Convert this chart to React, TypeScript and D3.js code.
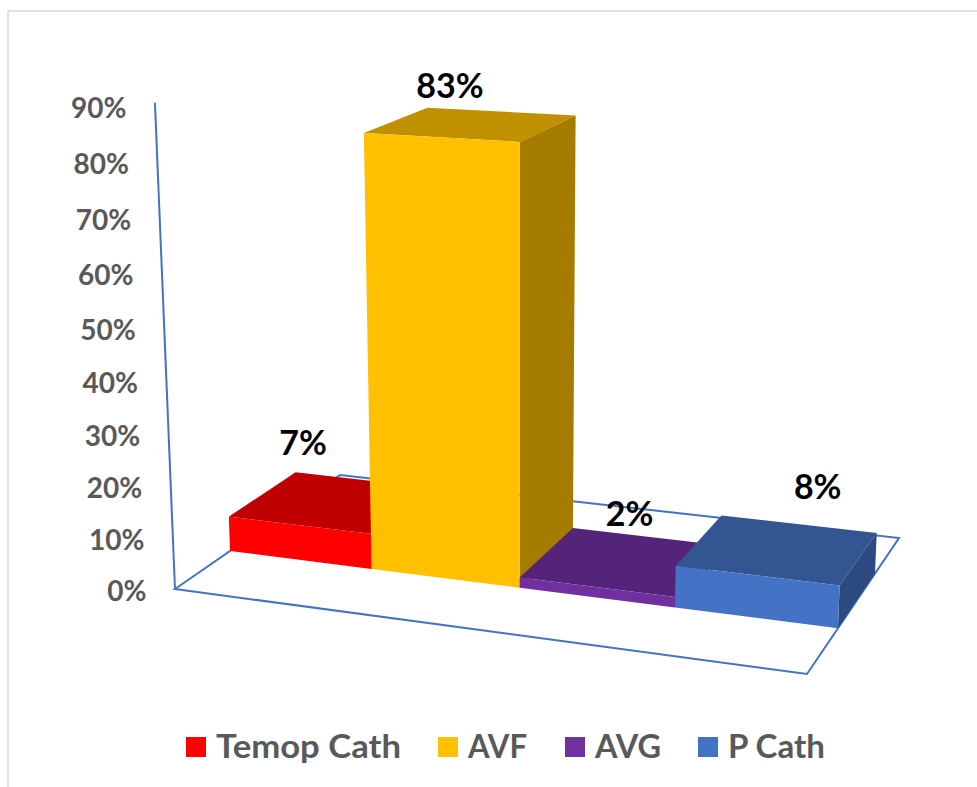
import React from "react";
import * as d3 from "d3";

const categories = ["Temop Cath", "AVF", "AVG", "P Cath"];
const percentValues = [7, 83, 2, 8];
const tickValues = [0, 10, 20, 30, 40, 50, 60, 70, 80, 90];
const frontColors = ["#FF0000", "#FFC000", "#7030A0", "#4472C4"];
const topColors = ["#C00000", "#C09000", "#54247A", "#335693"];
const sideColors = ["#900000", "#A67C00", "#43205F", "#2C4A80"];

// Camera: a 3D perspective projection of (u across, w into depth, v up), all in 0..1
const CAM = {
  xu: 556.07, xw: 214.67, xv: -28.5, x0: 175,
  yu: 21.58, yw: -44.61, yv: -490, y0: 589,
  hu: -0.0941, hw: 0.14608, hv: -0.055,
};
const project = (u: number, w: number, v: number): [number, number] => {
  const h = 1 + CAM.hu * u + CAM.hw * w + CAM.hv * v;
  return [
    (CAM.x0 + CAM.xu * u + CAM.xw * w + CAM.xv * v) / h,
    (CAM.y0 + CAM.yu * u + CAM.yw * w + CAM.yv * v) / h,
  ];
};

const uScale = d3.scaleBand<string>().domain(categories).range([0, 1]).padding(0);
const vScale = d3.scaleLinear().domain([0, 90]).range([0, 1]);
const DEPTH_FRONT = 0.304;
const DEPTH_BACK = 0.709;
const AXIS_BLUE = "#4472C4";
const FONT = "Lato, Carlito, Calibri, sans-serif";

const LABEL_SHIFT: [number, number][] = [
  [4, -70],
  [9, -39],
  [33, -61],
  [61, -76],
];
const LEGEND_X = [186, 438, 565, 698];
const LEGEND_TEXT_WIDTH = [185, 59, 66, 97];

const path = d3.line<[number, number]>().x((d) => d[0]).y((d) => d[1]);
const poly = (pts: [number, number][]) => path(pts) + "Z";

function Bar({ index }: { index: number }) {
  const name = categories[index];
  const u0 = uScale(name)!;
  const u1 = u0 + uScale.bandwidth();
  const v = vScale(percentValues[index]);
  const [f, b] = [DEPTH_FRONT, DEPTH_BACK];
  return (
    <g>
      <path d={poly([project(u0, f, v), project(u1, f, v), project(u1, b, v), project(u0, b, v)])} fill={topColors[index]} />
      <path d={poly([project(u1, f, 0), project(u1, b, 0), project(u1, b, v), project(u1, f, v)])} fill={sideColors[index]} />
      <path d={poly([project(u0, f, 0), project(u1, f, 0), project(u1, f, v), project(u0, f, v)])} fill={frontColors[index]} />
    </g>
  );
}

export default function App() {
  const floor = [project(0, 0, 0), project(1, 0, 0), project(1, 1, 0), project(0, 1, 0)];
  const axisTop = project(0, 0, 1.004);
  return (
    <svg
      width={977}
      height={787}
      style={{ position: "absolute", left: 0, top: 0, background: "#fff" }}
      fontFamily={FONT}
    >
      <path d="M8,787V11H977" fill="none" stroke="#D9D9D9" strokeWidth={1.5} />
      <path d={poly(floor)} fill="none" stroke={AXIS_BLUE} strokeWidth={2} />
      <line x1={floor[0][0]} y1={floor[0][1]} x2={axisTop[0]} y2={axisTop[1]} stroke={AXIS_BLUE} strokeWidth={2} />
      {tickValues.map((t) => {
        const [x, y] = project(0, 0, vScale(t));
        return (
          <text key={t} x={x - 28.5} y={y + 12 + (t >= 50 ? 1 : 0)} textAnchor="end" fontSize={28} fontWeight={700} fill="#595959">
            {t}%
          </text>
        );
      })}
      {categories.map((_, i) => (
        <Bar key={i} index={i} />
      ))}
      {categories.map((name, i) => {
        const uMid = uScale(name)! + uScale.bandwidth() / 2;
        const [x, y] = project(uMid, DEPTH_FRONT, vScale(percentValues[i]));
        return (
          <text key={name} x={x + LABEL_SHIFT[i][0]} y={y + LABEL_SHIFT[i][1]} textAnchor="middle" fontSize={34} fontWeight={700} fill="#000">
            {percentValues[i]}%
          </text>
        );
      })}
      {categories.map((name, i) => (
        <g key={name}>
          <rect x={LEGEND_X[i]} y={737} width={20} height={20} fill={frontColors[i]} />
          <text x={LEGEND_X[i] + 30} y={758} fontSize={33} fontWeight={700} fill="#595959" textLength={LEGEND_TEXT_WIDTH[i]} lengthAdjust="spacingAndGlyphs">
            {name}
          </text>
        </g>
      ))}
    </svg>
  );
}
